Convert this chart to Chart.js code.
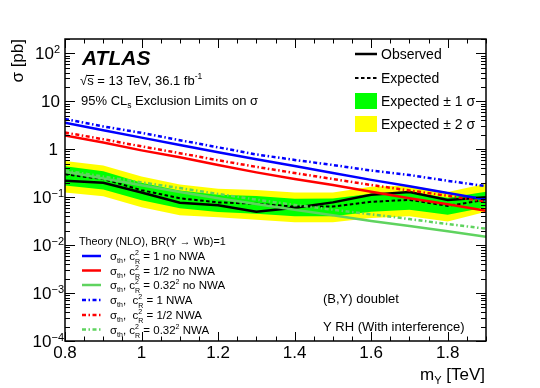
<!DOCTYPE html>
<html><head><meta charset="utf-8">
<style>html,body{margin:0;padding:0;background:#fff;}canvas{display:block;}</style>
<script src="https://cdn.jsdelivr.net/npm/chart.js@4/dist/chart.umd.min.js"></script>
</head><body>
<canvas id="c" width="540" height="388"></canvas>
<script>
// ---------- data ----------
const masses      = [0.8, 0.9, 1.0, 1.1, 1.2, 1.3, 1.4, 1.5, 1.6, 1.7, 1.8, 1.9];
const observed    = [0.22, 0.20, 0.125, 0.077, 0.068, 0.050, 0.060, 0.078, 0.112, 0.128, 0.088, 0.100];
const expected    = [0.30, 0.24, 0.140, 0.095, 0.078, 0.073, 0.064, 0.064, 0.080, 0.088, 0.066, 0.088];
const expPlus1    = [0.44, 0.35, 0.200, 0.138, 0.113, 0.106, 0.093, 0.094, 0.118, 0.128, 0.097, 0.130];
const expMinus1   = [0.175, 0.145, 0.086, 0.059, 0.049, 0.045, 0.040, 0.040, 0.050, 0.055, 0.043, 0.062];
const expPlus2    = [0.57, 0.46, 0.270, 0.185, 0.150, 0.141, 0.125, 0.125, 0.165, 0.175, 0.128, 0.190];
const expMinus2   = [0.125, 0.105, 0.062, 0.042, 0.038, 0.034, 0.030, 0.030, 0.037, 0.040, 0.031, 0.050];
const thC1        = [3.6, 2.5, 1.75, 1.23, 0.87, 0.62, 0.45, 0.32, 0.23, 0.17, 0.123, 0.089];
const thC05       = [1.95, 1.38, 0.95, 0.68, 0.47, 0.33, 0.24, 0.18, 0.13, 0.095, 0.071, 0.052];
const thC032      = [0.34, 0.245, 0.178, 0.129, 0.095, 0.072, 0.055, 0.042, 0.032, 0.025, 0.0195, 0.015];
const thC1NWA     = [4.3, 3.0, 2.2, 1.55, 1.1, 0.78, 0.60, 0.47, 0.36, 0.29, 0.22, 0.17];
const thC05NWA    = [2.24, 1.62, 1.15, 0.83, 0.59, 0.43, 0.32, 0.24, 0.18, 0.138, 0.107, 0.081];
const thC032NWA   = [0.36, 0.27, 0.204, 0.155, 0.117, 0.089, 0.069, 0.055, 0.044, 0.035, 0.0275, 0.022];
const xTickValues = [0.8, 1.0, 1.2, 1.4, 1.6, 1.8];
const xTickLabels = ['0.8', '1', '1.2', '1.4', '1.6', '1.8'];
const yTickValues = [1e-4, 1e-3, 1e-2, 1e-1, 1, 10, 100];
const yTickLabels = [['10','\u22124'], ['10','\u22123'], ['10','\u22122'], ['10','\u22121'], ['1',''], ['10',''], ['10','2']];

// ---------- styles ----------
const FONT = '"Liberation Sans", Arial, Helvetica, sans-serif';
const BLUE = '#0000ff', RED = '#ff0000', LGREEN = '#5fd35f';
const BAND1 = '#00ff00', BAND2 = '#ffff00';
const NWA_DASH = [4, 2.5, 1.5, 2.5];

function pts(arr) { return masses.map((m, i) => ({x: m, y: arr[i]})); }
function line(label, arr, color, width, dash, order) {
  return {label, data: pts(arr), borderColor: color, borderWidth: width, borderDash: dash || [],
          pointRadius: 0, fill: false, tension: 0, order};
}

function fnt(s, b, it) { return (it ? 'italic ' : '') + (b ? 'bold ' : '') + s + 'px ' + FONT; }
// rich text: segs = [{t, s, dy, b, i, keep}]
function rich(ctx, x, y, segs, align) {
  let w = 0;
  segs.forEach(g => { ctx.font = fnt(g.s, g.b, g.i); g.w = ctx.measureText(g.t).width; if (!g.keep) w += g.w; });
  let cx = align === 'right' ? x - w : (align === 'center' ? x - w / 2 : x);
  ctx.textAlign = 'left'; ctx.textBaseline = 'alphabetic';
  segs.forEach(g => { ctx.font = fnt(g.s, g.b, g.i); ctx.fillText(g.t, cx, y + (g.dy || 0)); if (!g.keep) cx += g.w; });
  return w;
}

const decor = {
  id: 'decor',
  afterDraw(chart) {
    const ctx = chart.ctx, a = chart.chartArea, xs = chart.scales.x, ys = chart.scales.y;
    ctx.save();
    ctx.fillStyle = '#000'; ctx.strokeStyle = '#000';
    // frame
    ctx.lineWidth = 1.5;
    ctx.strokeRect(a.left, a.top, a.right - a.left, a.bottom - a.top);
    // x ticks (bottom and top)
    ctx.lineWidth = 1;
    for (let i = 0; i <= 22; i++) {
      const v = 0.8 + i * 0.05; const px = Math.round(xs.getPixelForValue(v)) + 0.5;
      const len = (i % 4 === 0) ? 9 : 4.5;
      ctx.beginPath(); ctx.moveTo(px, a.bottom); ctx.lineTo(px, a.bottom - len);
      ctx.moveTo(px, a.top); ctx.lineTo(px, a.top + len); ctx.stroke();
    }
    // y ticks (left and right)
    for (let d = -4; d <= 2; d++) {
      for (let k = 1; k <= 9; k++) {
        const v = k * Math.pow(10, d); if (v > 200) continue;
        const py = Math.round(ys.getPixelForValue(v)) + 0.5;
        const len = k === 1 ? 10 : 5;
        ctx.beginPath(); ctx.moveTo(a.left, py); ctx.lineTo(a.left + len, py);
        ctx.moveTo(a.right, py); ctx.lineTo(a.right - len, py); ctx.stroke();
      }
    }
    // x tick labels
    ctx.textAlign = 'center'; ctx.textBaseline = 'alphabetic'; ctx.font = fnt(17);
    xTickValues.forEach((v, i) => ctx.fillText(xTickLabels[i], xs.getPixelForValue(v), 358));
    // y tick labels
    yTickValues.forEach((v, i) => {
      const py = ys.getPixelForValue(v); const [b, e] = yTickLabels[i];
      let right = e ? (e.length > 1 ? 64 : 60) : (b === '1' ? 58 : 60);
      const segs = [{t: b, s: 17}];
      if (e) segs.push({t: e, s: 11, dy: -6});
      rich(ctx, right, py + 6, segs, 'right');
    });
    // axis titles
    rich(ctx, 485, 380, [{t: 'm', s: 17}, {t: 'Y', s: 11, dy: 4}, {t: ' [TeV]', s: 17}], 'right');
    ctx.save(); ctx.translate(23, 39); ctx.rotate(-Math.PI / 2);
    rich(ctx, 0, 0, [{t: '\u03c3 [pb]', s: 17}], 'right'); ctx.restore();

    // ATLAS label block
    rich(ctx, 82, 65, [{t: 'ATLAS', s: 21, b: true, i: true}], 'left');
    const w0 = rich(ctx, 80, 85, [{t: '\u221a', s: 13}], 'left');
    ctx.font = fnt(13); const ws = ctx.measureText('s').width;
    ctx.lineWidth = 1; ctx.beginPath(); ctx.moveTo(80 + w0 - 0.5, 75.5); ctx.lineTo(80 + w0 + ws + 0.5, 75.5); ctx.stroke();
    rich(ctx, 80 + w0, 85, [{t: 's = 13 TeV, 36.1 fb', s: 13}, {t: '-1', s: 8.5, dy: -6}], 'left');
    rich(ctx, 81, 105, [{t: '95% CL', s: 13}, {t: 's', s: 8.5, dy: 3}, {t: ' Exclusion Limits on \u03c3', s: 13}], 'left');

    // top-right legend
    ctx.lineWidth = 2.5; ctx.setLineDash([]);
    ctx.beginPath(); ctx.moveTo(355, 54); ctx.lineTo(377, 54); ctx.stroke();
    ctx.lineWidth = 2; ctx.setLineDash([3.5, 2.5]);
    ctx.beginPath(); ctx.moveTo(355, 78); ctx.lineTo(377, 78); ctx.stroke();
    ctx.setLineDash([]);
    ctx.fillStyle = BAND1; ctx.fillRect(355, 93, 22, 16);
    ctx.fillStyle = BAND2; ctx.fillRect(355, 116, 22, 16);
    ctx.fillStyle = '#000';
    rich(ctx, 381, 59, [{t: 'Observed', s: 14}], 'left');
    rich(ctx, 381, 83, [{t: 'Expected', s: 14}], 'left');
    rich(ctx, 381, 106, [{t: 'Expected \u00b1 1 \u03c3', s: 14}], 'left');
    rich(ctx, 381, 129, [{t: 'Expected \u00b1 2 \u03c3', s: 14}], 'left');

    // theory legend
    rich(ctx, 79, 245, [{t: 'Theory (NLO), BR(Y \u2192 Wb)=1', s: 10.8}], 'left');
    const ent = [
      [BLUE, [], '1 no NWA', false], [RED, [], '1/2 no NWA', false], [LGREEN, [], '0.32', true, ' no NWA'],
      [BLUE, NWA_DASH, '1 NWA', false], [RED, NWA_DASH, '1/2 NWA', false], [LGREEN, NWA_DASH, '0.32', true, ' NWA']
    ];
    const ey = [256, 270.5, 285, 300, 315, 329.5];
    ent.forEach((e, i) => {
      ctx.strokeStyle = e[0]; ctx.lineWidth = 2.5; ctx.setLineDash(e[1]);
      ctx.beginPath(); ctx.moveTo(82, ey[i]); ctx.lineTo(101, ey[i]); ctx.stroke();
      ctx.setLineDash([]);
      const segs = [{t: '\u03c3', s: 11.5}, {t: 'th', s: 7, dy: 3}, {t: i >= 3 && i < 5 ? ',  c' : ', c', s: 11.5},
                    {t: '2', s: 7, dy: -5, keep: true}, {t: 'R', s: 7, dy: 4}, {t: ' = ' + e[2], s: 11.5}];
      if (e[3]) { segs.push({t: '2', s: 7, dy: -5}); segs.push({t: e[4], s: 11.5}); }
      rich(ctx, 110, ey[i] + 4, segs, 'left');
    });
    ctx.strokeStyle = '#000';
    // bottom-right notes
    rich(ctx, 323, 303, [{t: '(B,Y) doublet', s: 13}], 'left');
    rich(ctx, 323, 331, [{t: 'Y RH (With interference)', s: 13}], 'left');
    ctx.restore();
  }
};

new Chart(document.getElementById('c'), {
  type: 'line',
  data: {
    datasets: [
      {label: '+2s', data: pts(expPlus2), borderWidth: 0, pointRadius: 0, backgroundColor: BAND2, fill: 1, tension: 0, order: 20},
      {label: '-2s', data: pts(expMinus2), borderWidth: 0, pointRadius: 0, fill: false, tension: 0, order: 19},
      {label: '+1s', data: pts(expPlus1), borderWidth: 0, pointRadius: 0, backgroundColor: BAND1, fill: 3, tension: 0, order: 18},
      {label: '-1s', data: pts(expMinus1), borderWidth: 0, pointRadius: 0, fill: false, tension: 0, order: 17},
      line('Expected', expected, '#000', 2, [3.5, 2.5], 16),
      line('Observed', observed, '#000', 2.5, [], 15),
      line('c2=0.32^2 NWA', thC032NWA, LGREEN, 2.5, NWA_DASH, 9),
      line('c2=0.32^2', thC032, LGREEN, 2.5, [], 8),
      line('c2=1/2 NWA', thC05NWA, RED, 2.5, NWA_DASH, 7),
      line('c2=1/2', thC05, RED, 2.5, [], 6),
      line('c2=1 NWA', thC1NWA, BLUE, 2.5, NWA_DASH, 5),
      line('c2=1', thC1, BLUE, 2.5, [], 4)
    ]
  },
  options: {
    responsive: false, devicePixelRatio: 1, animation: false, events: [],
    layout: {padding: {left: 65, right: 54, top: 39, bottom: 47}},
    plugins: {legend: {display: false}, tooltip: {enabled: false}, title: {display: false}},
    scales: {
      x: {type: 'linear', min: 0.8, max: 1.9, display: false},
      y: {type: 'logarithmic', min: 1e-4, max: 200, display: false}
    }
  },
  plugins: [decor]
});
</script>
</body></html>
